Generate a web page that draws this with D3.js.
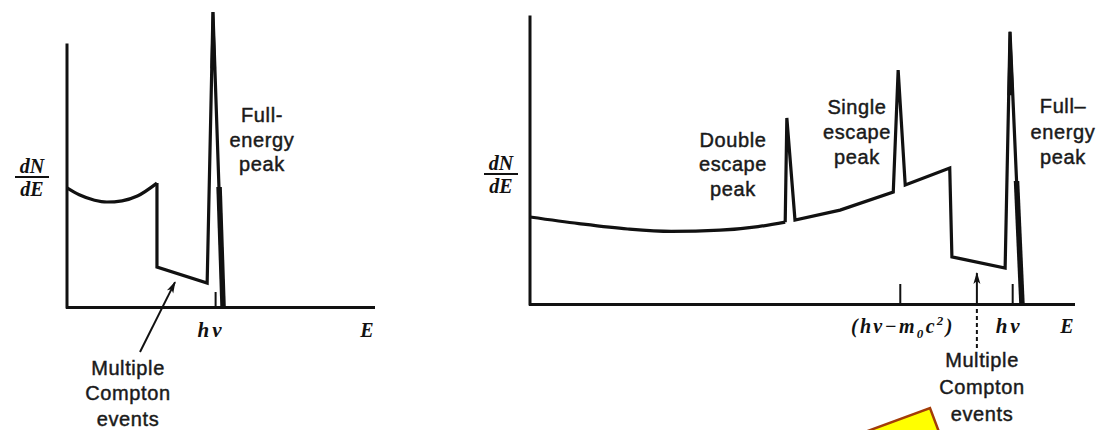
<!DOCTYPE html>
<html>
<head>
<meta charset="utf-8">
<script src="https://cdn.jsdelivr.net/npm/d3@7"></script>
<style>
  html, body { margin: 0; padding: 0; background: #fff; }
  svg { display: block; }
  .lbl { font-family: "Liberation Sans", Arial, sans-serif; font-size: 20px; fill: #1a1a1a; stroke: #1a1a1a; stroke-width: 0.45px; letter-spacing: 0.6px; }
  .math { font-family: "Liberation Serif", "Times New Roman", serif; font-style: italic; font-weight: bold; fill: #111; }
</style>
</head>
<body>
<svg id="chart" width="1106" height="430"></svg>
<script>
// Gamma-ray pulse-height spectra (arbitrary units: energy 0..100, counts 0..100)

// Small detector: Compton continuum, then edge, multiple-Compton plateau, full-energy peak
const smallContinuum = [[0, 39.7], [4, 37.4], [9, 35.6], [13, 35.0], [18, 35.4], [23, 37.0], [29.4, 41.3]];
const smallTail      = [[29.4, 41.3], [29.4, 13.3], [45.8, 8.0], [47.7, 98.3], [51.0, 0]];
const smallPeakFoot  = [[49.7, 40], [51.0, 0]];
const smallPeakTip   = [[47.3, 80], [47.7, 98.3], [48.3, 80]];
const smallTicks     = [48.4];
const smallAxisTop   = 87.3;

// Large detector: continuum with double- and single-escape peaks, then full-energy peak
const largeContinuum = [[0, 29.0], [9, 26.8], [18, 25.0], [26, 24.2], [35, 24.6], [42, 25.8], [47.0, 27.3]];
const largeTail      = [[47.0, 27.3], [47.3, 62.0], [48.8, 28.0], [57.1, 31.3], [66.9, 37.3], [67.8, 78.0],
                        [69.1, 39.7], [77.3, 45.3], [77.7, 15.7], [87.5, 12.0], [88.4, 90.7], [90.6, 0]];
const largePeakFoot  = [[89.6, 41], [90.6, 0]];
const largePeakTip   = [[88.15, 70], [88.4, 90.7], [88.9, 70]];
const largeTicks     = [68.1, 88.8];
const largeAxisTop   = 95.7;

const svg = d3.select("#chart");

const defs = svg.append("defs");
defs.append("marker")
  .attr("id", "head")
  .attr("viewBox", "0 0 12 8")
  .attr("refX", 11).attr("refY", 4)
  .attr("markerWidth", 13).attr("markerHeight", 8)
  .attr("markerUnits", "userSpaceOnUse")
  .attr("orient", "auto")
  .append("path").attr("d", "M0,0.5 L12,4 L0,7.5 L3,4 Z").attr("fill", "#111");

function drawPanel(cfg) {
  const g = svg.append("g");
  const x = d3.scaleLinear().domain([0, 100]).range(cfg.xRange);
  const y = d3.scaleLinear().domain([0, 100]).range(cfg.yRange);

  // energy axis with inward tick marks
  const axis = d3.axisBottom(x)
    .tickValues(cfg.ticks)
    .tickSizeInner(-cfg.tickLen)
    .tickSizeOuter(0)
    .tickFormat("");
  const ax = g.append("g").attr("transform", `translate(0,${y(0)})`).call(axis);
  ax.select(".domain").attr("stroke", "#111").attr("stroke-width", 3).attr("stroke-linecap", "square");
  ax.selectAll(".tick line").attr("stroke", "#111").attr("stroke-width", 2);

  // counts axis
  g.append("line")
    .attr("x1", x(0)).attr("x2", x(0))
    .attr("y1", y(0)).attr("y2", y(cfg.axisTop))
    .attr("stroke", "#111").attr("stroke-width", 3).attr("stroke-linecap", "square");

  // spectrum
  const smooth = d3.line().x(d => x(d[0])).y(d => y(d[1])).curve(d3.curveMonotoneX);
  const straight = d3.line().x(d => x(d[0])).y(d => y(d[1]));
  g.append("path").attr("d", smooth(cfg.continuum))
    .attr("fill", "none").attr("stroke", "#111").attr("stroke-width", 3.2);
  g.append("path").attr("d", straight(cfg.tail))
    .attr("fill", "none").attr("stroke", "#111").attr("stroke-width", 3.2)
    .attr("stroke-linejoin", "miter").attr("stroke-miterlimit", 12);
  g.append("path").attr("d", straight(cfg.foot))
    .attr("fill", "none").attr("stroke", "#111").attr("stroke-width", 5.5);
  g.append("path").attr("d", straight(cfg.tip) + "Z")
    .attr("fill", "#111").attr("stroke", "#111").attr("stroke-width", 2.5);

  // dN/dE
  const fx = cfg.frac.x;
  g.append("text").attr("class", "math").attr("x", fx).attr("y", cfg.frac.y - 4)
    .attr("text-anchor", "middle").style("font-size", "20px").text("dN");
  g.append("line").attr("x1", fx - 17).attr("x2", fx + 17)
    .attr("y1", cfg.frac.y).attr("y2", cfg.frac.y)
    .attr("stroke", "#111").attr("stroke-width", 1.8);
  g.append("text").attr("class", "math").attr("x", fx).attr("y", cfg.frac.y + 19)
    .attr("text-anchor", "middle").style("font-size", "20px").text("dE");

  // E at the end of the energy axis
  g.append("text").attr("class", "math").attr("x", cfg.eLabelX).attr("y", cfg.axisLabelY)
    .attr("text-anchor", "middle").style("font-size", "20px").text("E");

  return { g, x, y };
}

function multiline(g, cx, baselines, lines) {
  const t = g.append("text").attr("class", "lbl").attr("text-anchor", "middle");
  lines.forEach((s, i) => {
    t.append("tspan").attr("x", cx).attr("y", baselines[i]).text(s);
  });
}

// ---- small detector ----
const A = drawPanel({
  xRange: [67, 373], yRange: [307, 7], axisTop: smallAxisTop,
  ticks: smallTicks, tickLen: 15,
  continuum: smallContinuum, tail: smallTail, foot: smallPeakFoot, tip: smallPeakTip,
  frac: { x: 32, y: 177 }, eLabelX: 367, axisLabelY: 337
});
A.g.append("text").attr("class", "math").attr("x", A.x(smallTicks[0]) - 4).attr("y", 337)
  .attr("text-anchor", "middle").style("font-size", "21px").style("letter-spacing", "3px").text("hν");
multiline(A.g, 262, [122, 147, 171], ["Full-", "energy", "peak"]);
multiline(A.g, 128, [375, 400, 426], ["Multiple", "Compton", "events"]);
A.g.append("line")
  .attr("x1", 140).attr("y1", 352)
  .attr("x2", A.x(35.3)).attr("y2", A.y(8.3))
  .attr("stroke", "#111").attr("stroke-width", 2)
  .attr("marker-end", "url(#head)");

// ---- large detector ----
const B = drawPanel({
  xRange: [530, 1073], yRange: [304, 4], axisTop: largeAxisTop,
  ticks: largeTicks, tickLen: 20,
  continuum: largeContinuum, tail: largeTail, foot: largePeakFoot, tip: largePeakTip,
  frac: { x: 501, y: 174 }, eLabelX: 1067, axisLabelY: 333
});
const esc = B.g.append("text").attr("class", "math").attr("x", B.x(largeTicks[0]) + 3).attr("y", 333)
  .attr("text-anchor", "middle").style("font-size", "20px").style("letter-spacing", "2.3px");
esc.append("tspan").text("(hν−m");
esc.append("tspan").attr("dy", 5).style("font-size", "13px").text("0");
esc.append("tspan").attr("dy", -5).text("c");
esc.append("tspan").attr("dy", -8).style("font-size", "13px").text("2");
esc.append("tspan").attr("dy", 8).text(")");
B.g.append("text").attr("class", "math").attr("x", B.x(largeTicks[1]) - 3).attr("y", 333)
  .attr("text-anchor", "middle").style("font-size", "21px").style("letter-spacing", "3px").text("hν");

multiline(B.g, 733, [147, 171, 196], ["Double", "escape", "peak"]);
multiline(B.g, 857, [114, 139, 164], ["Single", "escape", "peak"]);
multiline(B.g, 1063, [113, 139, 164], ["Full–", "energy", "peak"]);
multiline(B.g, 982, [367, 394, 421], ["Multiple", "Compton", "events"]);

// pointer to the multiple-Compton plateau: solid above the axis, dashed below
const ax2 = B.x(82.3);
B.g.append("line").attr("x1", ax2).attr("x2", ax2)
  .attr("y1", B.y(0)).attr("y2", B.y(10.3))
  .attr("stroke", "#111").attr("stroke-width", 2)
  .attr("marker-end", "url(#head)");
B.g.append("line").attr("x1", ax2).attr("x2", ax2)
  .attr("y1", B.y(-14.7)).attr("y2", B.y(0))
  .attr("stroke", "#111").attr("stroke-width", 2).attr("stroke-dasharray", "4,3");

// yellow callout corner at the bottom edge
const callout = [[865, 432], [930, 408], [939, 432]];
svg.append("path")
  .attr("d", d3.line()(callout))
  .attr("fill", "#ffff00").attr("stroke", "#a33c08").attr("stroke-width", 2.5)
  .attr("stroke-linejoin", "miter");
</script>
</body>
</html>
